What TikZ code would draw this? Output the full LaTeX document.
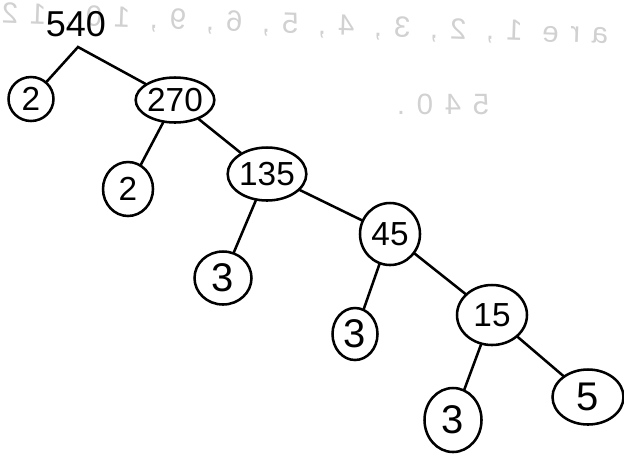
\documentclass[tikz,border=0pt]{standalone}
\usepackage{fontspec}
\setmainfont{Liberation Sans}
\usetikzlibrary{shapes.geometric}
\begin{document}
\begin{tikzpicture}[x=0.75pt,y=-0.75pt,
  factor/.style={draw, ellipse, line width=1.9pt, inner sep=0pt,
    font=\fontsize{25}{27}\selectfont},
  bigdigit/.style={font=\fontsize{30}{32}\selectfont},
  branch/.style={line width=1.9pt, line cap=round},
  ghost/.style={text=black!18, xscale=-1,
    font=\fontsize{22}{24}\selectfont\addfontfeature{LetterSpace=40}}]
\useasboundingbox[fill=white] (0,0) rectangle (624,455);

% faint writing showing through from the back of the sheet
\node[ghost, rotate=2] (backline) at (305,25) {are 1, 2, 3, 4, 5, 6, 9, 10, 12};
\node[ghost] (backnum) at (443,104) {540.};

% the number being factorised
\node[font=\fontsize{27}{29}\selectfont, inner sep=0pt] (root) at (76,24) {540};
\coordinate (apex) at (78,47);

% factor nodes
\node[factor, minimum width=33.75pt, minimum height=33pt]   (twoA)   at (31,99)  {2};
\node[factor, minimum width=37.5pt,  minimum height=33.75pt] (n270)  at (175,100) {270};
\node[factor, minimum width=37.5pt,  minimum height=40.5pt]  (twoB)  at (128,189) {2};
\node[factor, minimum width=57.75pt, minimum height=39.75pt] (n135)  at (267,174) {135};
\node[factor, bigdigit, minimum width=42.75pt, minimum height=39.75pt] (threeA) at (223,278) {3};
\node[factor, minimum width=45pt,    minimum height=46.5pt]  (n45)   at (390,234) {45};
\node[factor, bigdigit, minimum width=33.75pt, minimum height=39pt]    (threeB) at (355,334) {3};
\node[factor, minimum width=52.5pt,  minimum height=45pt]    (n15)   at (492,315) {15};
\node[factor, bigdigit, minimum width=42.75pt, minimum height=48pt]    (threeC) at (453,420) {3};
\node[factor, bigdigit, minimum width=53.25pt, minimum height=41.25pt] (five)  at (588,397) {5};

% branches
\draw[branch] (twoA) -- (apex) -- (n270);
\draw[branch] (n270) -- (twoB);
\draw[branch] (n270) -- (n135);
\draw[branch] (n135) -- (threeA);
\draw[branch] (n135) -- (n45);
\draw[branch] (n45) -- (threeB);
\draw[branch] (n45) -- (n15);
\draw[branch] (n15) -- (threeC);
\draw[branch] (n15) -- (five);
\end{tikzpicture}
\end{document}
